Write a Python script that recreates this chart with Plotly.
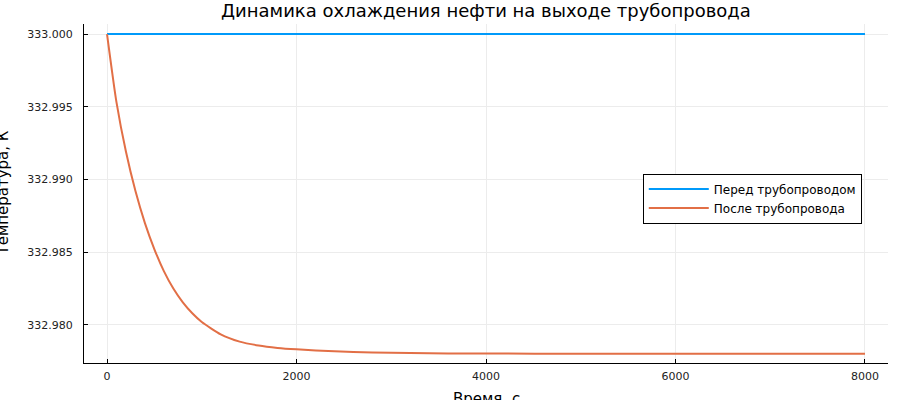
import plotly.graph_objects as go

# Data
time_s = [0, 100, 200, 300, 400, 500, 600, 700, 800, 900, 1000, 1200, 1400, 1600,
          1800, 2000, 2400, 2800, 3200, 3600, 4000, 5000, 6000, 7000, 8000]
temp_before = [333.0] * len(time_s)
temp_after = [333.00000, 332.99530, 332.99190, 332.98920, 332.98700, 332.98520,
              332.98370, 332.98250, 332.98155, 332.98080, 332.98020, 332.97935,
              332.97885, 332.97858, 332.97842, 332.97832, 332.97818, 332.97810,
              332.97806, 332.97804, 332.97803, 332.97802, 332.97802, 332.97802,
              332.97802]

series_names = ["Перед трубопроводом", "После трубопровода"]
title_text = "Динамика охлаждения нефти на выходе трубопровода"
x_label = "Время, с"
y_label = "Температура, К"
x_ticks = [0, 2000, 4000, 6000, 8000]
y_ticks = [332.980, 332.985, 332.990, 332.995, 333.000]

FONT = "DejaVu Sans"
fig = go.Figure()
fig.add_trace(go.Scatter(x=time_s, y=temp_before, mode="lines", name=series_names[0],
                         line=dict(color="#009AFA", width=2)))
fig.add_trace(go.Scatter(x=time_s, y=temp_after, mode="lines", name=series_names[1],
                         line=dict(color="#E26F46", width=2, shape="spline", smoothing=0.6)))

axis_common = dict(showgrid=True, gridcolor="#ececec", gridwidth=1, zeroline=False,
                   showline=True, linecolor="black", linewidth=1, mirror=False,
                   ticks="inside", ticklen=4, tickcolor="black",
                   tickfont=dict(family=FONT, size=11, color="#222"))

fig.update_layout(
    width=900, height=400,
    margin=dict(l=84, r=12, t=24, b=37),
    plot_bgcolor="white", paper_bgcolor="white",
    font=dict(family=FONT),
    showlegend=True,
    legend=dict(x=0.695, y=0.485, xanchor="left", yanchor="middle",
                bordercolor="black", borderwidth=1, bgcolor="white",
                font=dict(family=FONT, size=12, color="black"),
                tracegroupgap=0, itemwidth=60),
    xaxis=dict(range=[-243, 8243], tickvals=x_ticks, ticklabelstandoff=3,
               ticktext=[str(v) for v in x_ticks], **axis_common),
    yaxis=dict(range=[332.97738, 333.00069], tickvals=y_ticks, ticklabelstandoff=8,
               ticktext=[f"{v:.3f}" for v in y_ticks], **axis_common),
    annotations=[
        dict(text=title_text, xref="paper", yref="paper", x=0.5, y=1,
             xanchor="center", yanchor="middle", yshift=14, showarrow=False,
             font=dict(family=FONT, size=18, color="black")),
        dict(text=x_label, xref="paper", yref="paper", x=0.5, y=0,
             xanchor="center", yanchor="top", yshift=-25, showarrow=False,
             font=dict(family=FONT, size=15, color="black")),
        dict(text=y_label, xref="paper", yref="paper", x=0, y=0.5,
             xanchor="center", yanchor="middle", xshift=-82, textangle=-90,
             showarrow=False, font=dict(family=FONT, size=15, color="black")),
    ],
)

fig.write_html("out.html", config={"displayModeBar": False},
               post_script="document.body.style.margin='0';document.body.style.padding='0';")
